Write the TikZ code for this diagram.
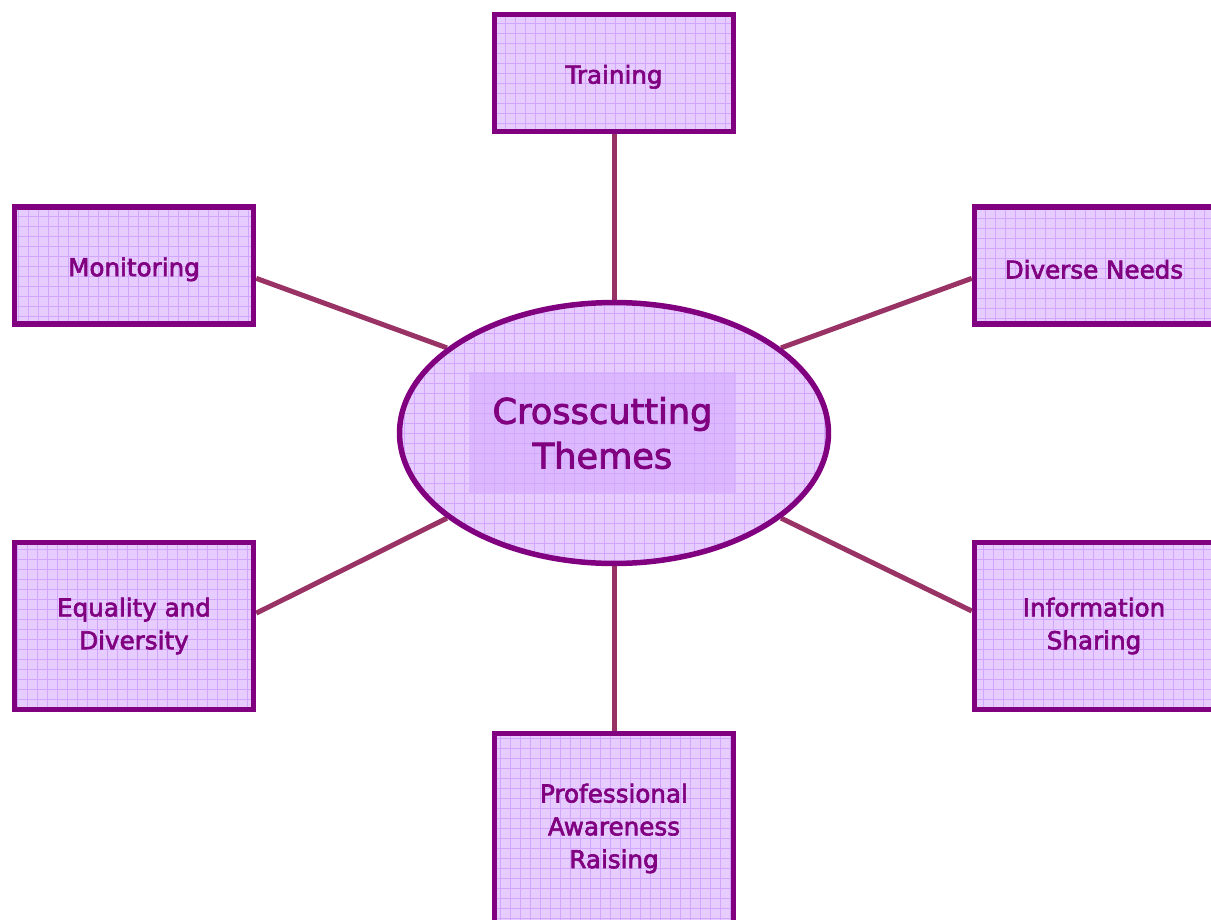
\documentclass[tikz,border=0pt]{standalone}
\usepackage{fontspec}
\setmainfont{DejaVu Sans}
\newfontfamily\themefont[FakeBold=2.5]{DejaVu Sans}
\usetikzlibrary{shapes.geometric,backgrounds}
\definecolor{plum}{HTML}{800080}
\definecolor{wine}{HTML}{993366}
\definecolor{lavfill}{HTML}{E6CCFF}
\definecolor{lavgrid}{HTML}{D2A6FF}
\definecolor{lavdeep}{HTML}{D4AAFF}
\tikzset{
  gridfill/.style={fill=lavfill, path picture={
    \draw[lavgrid, line width=0.3pt] (path picture bounding box.south west)
      grid[step=0.2cm] (path picture bounding box.north east);}},
  theme/.style={draw=plum, line width=0.11cm, gridfill, rectangle,
    minimum width=4.78cm, minimum height=2.34cm, inner sep=2pt, align=center,
    text=plum, font=\themefont\fontsize{14}{18.7}\selectfont},
  link/.style={draw=wine, line width=0.1cm}
}

\begin{document}
\begin{tikzpicture}[x=0.02cm, y=-0.02cm]
\useasboundingbox (0,0) rectangle (1211,920);

\node[draw=plum, line width=0.11cm, gridfill, ellipse, inner sep=0pt,
  minimum width=8.58cm, minimum height=5.22cm] (themes) at (614,433) {};
\node[fill=lavdeep, fill opacity=0.55, text opacity=1, text=plum,
  minimum width=5.34cm, minimum height=2.44cm, align=center,
  font=\themefont\fontsize{20}{25.5}\selectfont] (title) at (602.5,433) {Crosscutting\\Themes};

\node[theme, text height=15pt] (train) at (614,73) {Training};
\node[theme, text height=15pt] (mon) at (134,265.5) {Monitoring};
\node[theme, text height=15pt] (needs) at (1094,265.5) {Diverse Needs};
\node[theme, minimum height=3.34cm] (equal) at (134,626) {Equality and\\Diversity};
\node[theme, minimum height=3.34cm] (info) at (1094,626) {Information\\Sharing};
\node[theme, minimum height=3.8cm] (prof) at (614,828.5) {Professional\\Awareness\\Raising};

\begin{scope}[on background layer]
\path[link] (train) -- (themes);
\path[link] (prof) -- (themes);
\path[link] (mon.-6) -- (themes.153);
\path[link] (needs.186) -- (themes.27);
\path[link] (equal.6.5) -- (themes.207);
\path[link] (info.173.5) -- (themes.333);
\end{scope}
\end{tikzpicture}
\end{document}
